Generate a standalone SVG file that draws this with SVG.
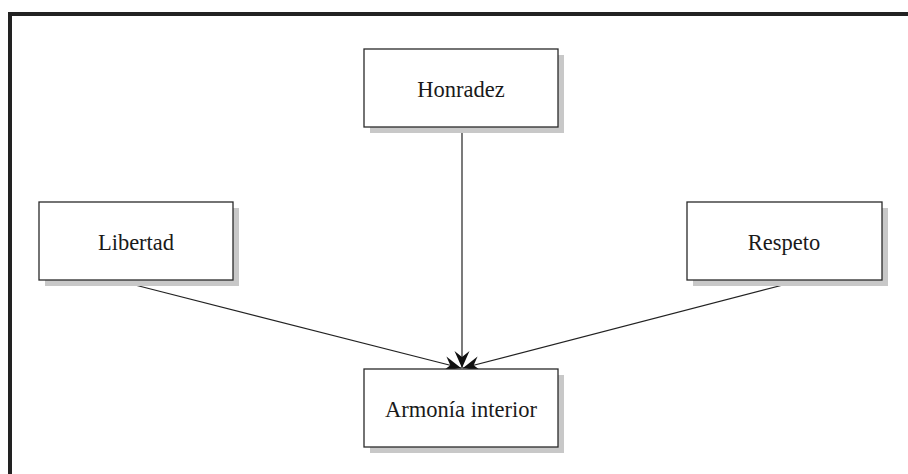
<svg xmlns="http://www.w3.org/2000/svg" width="908" height="474" viewBox="0 0 908 474">
<defs>
<style>
.shadow{fill:#c8c8c8;stroke:none}
.box{fill:#ffffff;stroke:#2a2a2a;stroke-width:1.3}
.lbl{font-family:"Liberation Serif","Times New Roman",serif;font-size:22.5px;fill:#1a1a1a;text-anchor:middle}
.edge{stroke:#222;stroke-width:1.2;fill:none;marker-end:url(#arr)}
</style>
<marker id="arr" viewBox="-18 -9 20 18" markerWidth="20" markerHeight="18" refX="0" refY="0" orient="auto" markerUnits="userSpaceOnUse">
<path d="M0,0 L-17,-7.5 L-11,0 L-17,7.5 Z" fill="#111"/>
</marker>
</defs>
<rect width="908" height="474" fill="#ffffff"/>
<path d="M10,474 V14 H908" fill="none" stroke="#222" stroke-width="4"/>
<g id="connectors">
<line class="edge" x1="462" y1="131" x2="462" y2="368"/>
<line class="edge" x1="135" y1="285" x2="461" y2="368"/>
<line class="edge" x1="783" y1="285" x2="463" y2="368"/>
</g>
<g id="honradez">
<rect class="shadow" x="370" y="55" width="194" height="78"/>
<rect class="box" x="364" y="49" width="194" height="78"/>
<text class="lbl" x="461" y="97">Honradez</text>
</g>
<g id="libertad">
<rect class="shadow" x="45" y="208" width="194" height="78"/>
<rect class="box" x="39" y="202" width="194" height="78"/>
<text class="lbl" x="136" y="250">Libertad</text>
</g>
<g id="respeto">
<rect class="shadow" x="693" y="208" width="195" height="78"/>
<rect class="box" x="687" y="202" width="195" height="78"/>
<text class="lbl" x="784" y="250">Respeto</text>
</g>
<g id="armonia">
<rect class="shadow" x="370" y="375" width="194" height="78"/>
<rect class="box" x="364" y="369" width="194" height="78"/>
<text class="lbl" x="461" y="417">Armonía interior</text>
</g>
</svg>
